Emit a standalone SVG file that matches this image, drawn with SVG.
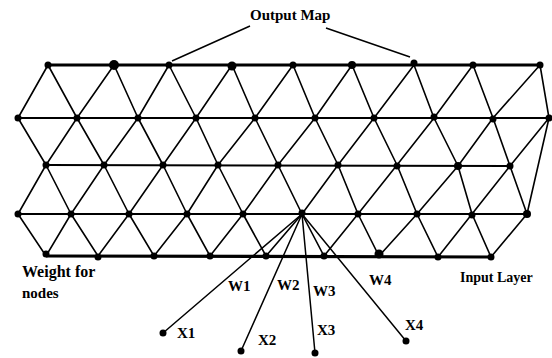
<svg xmlns="http://www.w3.org/2000/svg" width="552" height="358" viewBox="0 0 552 358">
<style>
.row{stroke:#000;stroke-width:2;fill:none}
.rowb{stroke:#000;stroke-width:3.2;fill:none}
.d{stroke:#000;stroke-width:1.6;fill:none}
.f{stroke:#000;stroke-width:1.5;fill:none}
.n{fill:#000}
.t{font-family:"Liberation Serif","Times New Roman",serif;font-weight:bold;font-size:15px;fill:#000}
</style>
<rect width="552" height="358" fill="#fff"/>
<g id="connectors">
<line class="rowb" x1="48" y1="65" x2="540" y2="65"/>
<line class="row" x1="18" y1="118" x2="549" y2="118"/>
<line class="row" x1="46" y1="165" x2="510" y2="166"/>
<line class="row" x1="18" y1="214" x2="527" y2="214"/>
<line class="rowb" x1="46" y1="256" x2="491" y2="257"/>
<path class="d" d="M48 65L18 118M48 65L77 118M114 65L77 118M114 65L138 118M169 65L138 118M169 65L196 118M232 65L196 118M232 65L255 118M293 65L255 118M293 65L315 118M352 65L315 118M352 65L374 118M414 65L374 118M414 65L434 118M473 65L434 118M473 65L493 118M540 65L493 118M540 65L549 118"/>
<path class="d" d="M18 118L46 165M77 118L46 165M77 118L104 165M138 118L104 165M138 118L163 165M196 118L163 165M196 118L218 165M255 118L218 165M255 118L278 165M315 118L278 165M315 118L338 165M374 118L338 165M374 118L397 165M434 118L397 165M434 118L458 166M493 118L458 166M493 118L510 166M549 118L510 166M549 118L527 214"/>
<path class="d" d="M46 165L18 214M46 165L71 214M104 165L71 214M104 165L129 214M163 165L129 214M163 165L187 214M218 165L187 214M218 165L243 214M278 165L243 214M278 165L302 214M338 165L302 214M338 165L358 214M397 165L358 214M397 165L417 214M458 166L417 214M458 166L472 214M510 166L472 214M510 166L527 214"/>
<path class="d" d="M18 214L46 256M71 214L46 256M71 214L98 256M129 214L98 256M129 214L154 256M187 214L154 256M187 214L210 256M243 214L210 256M243 214L266 256M302 214L266 256M302 214L324 256M358 214L324 256M358 214L379 256M417 214L379 256M417 214L438 257M472 214L438 257M472 214L491 257M527 214L491 257"/>
<path class="f" d="M302 214L163 333M302 214L241 351M302 214L315 353M302 214L406 341"/>
<path class="f" d="M250 26L172 61M326 28L410 57"/>
</g>
<g id="row0">
<circle class="n" cx="48" cy="65" r="3.5"/><circle class="n" cx="114" cy="65" r="5"/><circle class="n" cx="169" cy="65" r="3.5"/><circle class="n" cx="232" cy="66" r="4.5"/><circle class="n" cx="293" cy="65" r="3.5"/><circle class="n" cx="352" cy="65" r="4"/><circle class="n" cx="414" cy="63" r="3.5"/><circle class="n" cx="473" cy="65" r="3.5"/><circle class="n" cx="540" cy="65" r="3.5"/>
</g>
<g id="row1">
<circle class="n" cx="18" cy="118" r="3.5"/><circle class="n" cx="77" cy="118" r="3.5"/><circle class="n" cx="138" cy="118" r="3.5"/><circle class="n" cx="196" cy="118" r="3.5"/><circle class="n" cx="255" cy="118" r="3.5"/><circle class="n" cx="315" cy="118" r="3.5"/><circle class="n" cx="374" cy="118" r="3.5"/><circle class="n" cx="434" cy="117" r="3.5"/><circle class="n" cx="493" cy="119" r="3.5"/><circle class="n" cx="549" cy="118" r="3.5"/>
</g>
<g id="row2">
<circle class="n" cx="46" cy="165" r="3.5"/><circle class="n" cx="104" cy="165" r="3.5"/><circle class="n" cx="163" cy="165" r="3.5"/><circle class="n" cx="218" cy="165" r="3.5"/><circle class="n" cx="278" cy="165" r="3.5"/><circle class="n" cx="338" cy="165" r="3.5"/><circle class="n" cx="397" cy="166" r="3.5"/><circle class="n" cx="458" cy="166" r="4"/><circle class="n" cx="510" cy="166" r="3.5"/>
</g>
<g id="row3">
<circle class="n" cx="18" cy="214" r="3.5"/><circle class="n" cx="71" cy="214" r="3.5"/><circle class="n" cx="129" cy="214" r="3.5"/><circle class="n" cx="187" cy="214" r="3.5"/><circle class="n" cx="243" cy="214" r="3.5"/><circle class="n" cx="302" cy="213" r="3.5"/><circle class="n" cx="358" cy="214" r="3.5"/><circle class="n" cx="417" cy="214" r="3.5"/><circle class="n" cx="472" cy="215" r="3.5"/><circle class="n" cx="527" cy="214" r="4"/>
</g>
<g id="row4">
<circle class="n" cx="46" cy="254" r="3.5"/><circle class="n" cx="98" cy="257" r="3.5"/><circle class="n" cx="154" cy="256" r="3.5"/><circle class="n" cx="210" cy="256" r="3.5"/><circle class="n" cx="266" cy="256" r="3.5"/><circle class="n" cx="324" cy="256" r="3.5"/><circle class="n" cx="379" cy="254" r="4.5"/><circle class="n" cx="438" cy="257" r="3.5"/><circle class="n" cx="491" cy="257" r="3.5"/>
</g>
<g id="x1"><circle class="n" cx="163" cy="333" r="3.5"/><text class="t" x="177" y="338">X1</text></g>
<g id="x2"><circle class="n" cx="241" cy="351" r="3.5"/><text class="t" x="258" y="345">X2</text></g>
<g id="x3"><circle class="n" cx="315" cy="353" r="3.5"/><text class="t" x="317" y="335">X3</text></g>
<g id="x4"><circle class="n" cx="406" cy="341" r="3.5"/><text class="t" x="405" y="330">X4</text></g>
<g id="labels">
<text class="t" x="250" y="20">Output Map</text>
<text class="t" x="460" y="282" style="font-size:14px">Input Layer</text>
<text class="t" x="22" y="277" style="font-size:16px">Weight for</text>
<text class="t" x="22" y="298">nodes</text>
<text class="t" x="228" y="291">W1</text>
<text class="t" x="277" y="290">W2</text>
<text class="t" x="313" y="296">W3</text>
<text class="t" x="369" y="285">W4</text>
</g>
</svg>
